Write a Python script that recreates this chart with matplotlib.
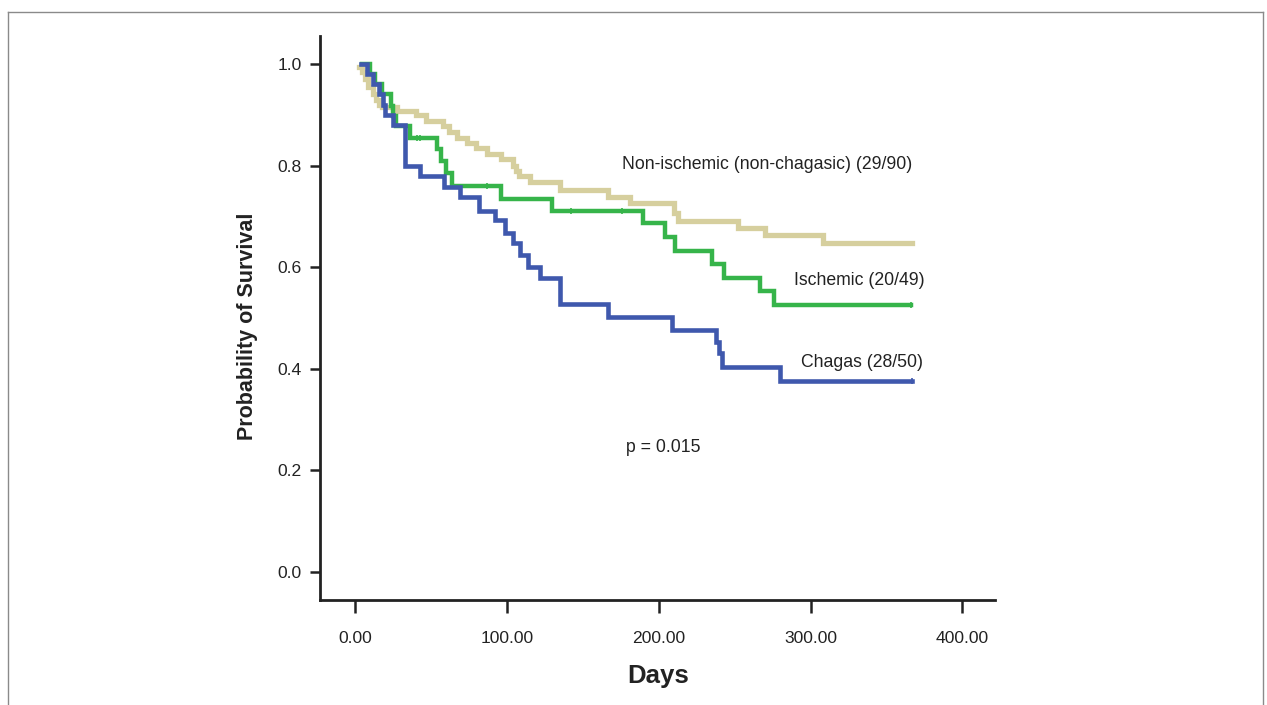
import matplotlib
matplotlib.use("Agg")
import matplotlib.pyplot as plt
from matplotlib.lines import Line2D

plt.rcParams['font.family'] = ['Liberation Sans', 'DejaVu Sans']

# Kaplan-Meier steps (time of drop, survival after drop)
chagas_t = [4, 8, 12, 16, 18.5, 20, 25, 33, 43, 59, 69, 82, 92, 99, 104, 109, 114, 122, 135, 167, 209, 238, 240, 242, 280]
chagas_s = [1.0, 0.98, 0.96, 0.94, 0.92, 0.90, 0.88, 0.80, 0.78, 0.758, 0.738, 0.71, 0.693, 0.667, 0.648, 0.624, 0.60, 0.579, 0.527, 0.502, 0.476, 0.453, 0.431, 0.404, 0.377]
chagas_end = 367

isch_t = [5, 10, 13, 18, 24, 25, 27, 36, 54, 57, 60, 64, 96, 130, 190, 204, 211, 235, 243, 267, 276]
isch_s = [1.0, 0.98, 0.96, 0.94, 0.918, 0.898, 0.877, 0.854, 0.833, 0.81, 0.785, 0.759, 0.735, 0.711, 0.688, 0.66, 0.632, 0.607, 0.579, 0.553, 0.526]
isch_end = 366
isch_cens = [41, 43, 87, 142, 176, 366]

nonisch_t = [3, 5, 7, 9, 12, 14, 16, 18, 28, 40, 47, 58, 62, 67, 74, 80, 87, 96, 104, 106, 108, 115, 135, 167, 181, 210, 213, 252, 270, 308]
nonisch_s = [0.995, 0.985, 0.97, 0.955, 0.94, 0.93, 0.92, 0.915, 0.908, 0.90, 0.888, 0.877, 0.866, 0.855, 0.845, 0.834, 0.823, 0.812, 0.80, 0.79, 0.78, 0.768, 0.752, 0.739, 0.726, 0.707, 0.69, 0.677, 0.663, 0.647]
nonisch_end = 367

fig = plt.figure(figsize=(12.67, 7.05), dpi=100)
ax = fig.add_axes([0.2526, 0.1489, 0.533, 0.8])

def km(t, s, end):
    return t + [end], s + [s[-1]]

tx, sy = km(nonisch_t, nonisch_s, nonisch_end)
ax.step(tx, sy, where='post', color='#d6cf9e', lw=3.8, solid_joinstyle='miter')
tx, sy = km(isch_t, isch_s, isch_end)
ax.step(tx, sy, where='post', color='#36b44a', lw=3.2, solid_joinstyle='miter')
tx, sy = km(chagas_t, chagas_s, chagas_end)
ax.step(tx, sy, where='post', color='#3f58ad', lw=3.3, solid_joinstyle='miter')

# censor marks on the ischemic curve
cens_y = []
for c in isch_cens:
    v = 1.0
    for t, s in zip(isch_t, isch_s):
        if t <= c:
            v = s
    cens_y.append(v)
ax.plot(isch_cens, cens_y, ls='none', marker='|', ms=5, mew=1.2, color='#36b44a')
ax.plot([chagas_end], [chagas_s[-1]], ls='none', marker='|', ms=4, mew=1.2, color='#3f58ad')

ax.set_xlim(-22.9, 421.7)
ax.set_ylim(-0.055, 1.055)
ax.set_xticks([0, 100, 200, 300, 400])
ax.set_xticklabels(['0.00', '100.00', '200.00', '300.00', '400.00'])
ax.set_yticks([0.0, 0.2, 0.4, 0.6, 0.8, 1.0])
ax.set_yticklabels(['0.0', '0.2', '0.4', '0.6', '0.8', '1.0'])
ax.tick_params(axis='x', length=9, width=1.8, labelsize=12.6, pad=13, color='#222222', labelcolor='#222222')
ax.tick_params(axis='y', length=7, width=1.8, labelsize=12.6, pad=6, color='#222222', labelcolor='#222222')
for sp in ['top', 'right']:
    ax.spines[sp].set_visible(False)
for sp in ['left', 'bottom']:
    ax.spines[sp].set_linewidth(2.0)
    ax.spines[sp].set_color('#222222')

ax.set_xlabel('Days', fontsize=18.5, fontweight='bold', labelpad=13, color='#222222')
ax.set_ylabel('Probability of Survival', fontsize=15.5, fontweight='bold', color='#222222')
ax.yaxis.set_label_coords(-0.092, 0.486)

ax.text(367, 0.802, 'Non-ischemic (non-chagasic) (29/90)', ha='right', va='center', fontsize=12.7, color='#222222')
ax.text(375, 0.574, 'Ischemic (20/49)', ha='right', va='center', fontsize=12.7, color='#222222')
ax.text(374, 0.413, 'Chagas (28/50)', ha='right', va='center', fontsize=12.7, color='#222222')
ax.text(203, 0.245, 'p = 0.015', ha='center', va='center', fontsize=12.7, color='#222222')

# outer frame (bottom edge falls outside the image)
fc = '#8a8a8a'
fig.add_artist(Line2D([8/1267, 8/1267], [0, 1 - 12/705], color=fc, lw=1.0))
fig.add_artist(Line2D([8/1267, 1263/1267], [1 - 12/705, 1 - 12/705], color=fc, lw=1.0))
fig.add_artist(Line2D([1263/1267, 1263/1267], [0, 1 - 12/705], color=fc, lw=1.0))

fig.savefig('out.png', dpi=100)
